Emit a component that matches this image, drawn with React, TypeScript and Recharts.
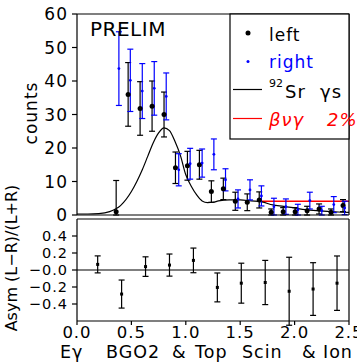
import React from "react";
import { ComposedChart, Scatter, Line, XAxis, YAxis, ErrorBar, ReferenceLine } from "recharts";

// "left" detector counts per energy bin (lower error stops at zero for the first bin)
const leftE = [0.36, 0.47, 0.58, 0.69, 0.8, 0.905, 1.015, 1.125, 1.235, 1.345, 1.455, 1.565, 1.675, 1.785, 1.895, 2.005, 2.115, 2.225, 2.335, 2.445];
const leftCounts = [1.0, 36.0, 31.8, 32.5, 30.0, 14.1, 14.7, 15.0, 7.0, 7.8, 4.1, 3.8, 4.5, 0.8, 1.0, 1.0, 1.3, 1.8, 0.8, 2.8];
const leftErrUp = [9.3, 9.5, 8.0, 7.5, 6.7, 4.7, 4.3, 4.3, 3.2, 3.2, 2.7, 2.5, 2.4, 1.0, 1.2, 1.2, 1.3, 1.5, 1.0, 1.8];
const leftErrDown = [1.0, 9.5, 8.0, 7.5, 6.7, 4.7, 4.3, 4.3, 3.2, 3.2, 2.7, 2.5, 2.4, 0.8, 1.0, 1.0, 1.3, 1.5, 0.8, 1.8];

// "right" detector, drawn slightly offset
const rightE = [0.385, 0.49, 0.6, 0.71, 0.82, 0.935, 1.04, 1.15, 1.258, 1.365, 1.48, 1.59, 1.695, 1.81, 1.92, 2.03, 2.14, 2.25, 2.36, 2.46];
const rightCounts = [43.7, 40.2, 37.0, 37.8, 35.4, 13.5, 15.3, 15.5, 18.1, 10.5, 4.8, 7.5, 5.7, 2.5, 2.5, 1.6, 4.3, 1.3, 3.1, 2.1];
const rightErr = [11.0, 9.3, 8.2, 8.0, 7.0, 4.8, 4.6, 4.2, 4.6, 3.3, 2.7, 3.0, 3.0, 2.5, 2.3, 1.6, 2.5, 1.3, 2.4, 2.0];

// 92Sr gamma response
const srE = [0, 0.1, 0.2, 0.3, 0.4, 0.5, 0.55, 0.6, 0.65, 0.7, 0.75, 0.8, 0.85, 0.9, 0.95, 1.0, 1.05, 1.1, 1.15, 1.2, 1.25, 1.3, 1.4, 1.5, 1.6, 1.7, 1.8, 1.9, 2.0, 2.1, 2.2, 2.3, 2.4, 2.5];
const srCounts = [0.3, 0.3, 0.4, 1.0, 2.8, 7.0, 10.0, 13.5, 17.5, 21.5, 24.5, 26.0, 25.2, 22.0, 17.8, 12.0, 8.6, 6.0, 4.2, 3.7, 3.8, 4.2, 4.5, 4.5, 4.2, 3.9, 3.0, 2.6, 2.1, 1.6, 1.3, 1.1, 0.9, 0.8];

// beta-nu-gamma 2% level
const bngE = [1.67, 2.5];
const bngCounts = [4.1, 4.1];

// asymmetry (L-R)/(L+R)
const asymE = [0.19, 0.41, 0.63, 0.85, 1.07, 1.29, 1.51, 1.73, 1.95, 2.17, 2.39];
const asymVal = [0.066, -0.283, 0.04, 0.058, 0.113, -0.205, -0.155, -0.147, -0.25, -0.224, -0.155];
const asymErr = [0.1, 0.165, 0.115, 0.13, 0.145, 0.17, 0.235, 0.26, 0.4, 0.31, 0.32];

const xTicks = [0, 0.5, 1, 1.5, 2, 2.5];
const countTicks = [0, 10, 20, 30, 40, 50, 60];
const asymTicks = [-0.4, -0.2, 0, 0.2, 0.4];

const FONT = "DejaVu Sans";
const tickFont = { fontSize: 17, fill: "#000", fontFamily: FONT, letterSpacing: 1 };
const ax = { stroke: "#000", strokeWidth: 1.2 };

const leftData = leftE.map((x, i) => ({ x, y: leftCounts[i], e: [leftErrDown[i], leftErrUp[i]] }));
const rightData = rightE.map((x, i) => ({ x, y: rightCounts[i], e: rightErr[i] }));
const srData = srE.map((x, i) => ({ x, y: srCounts[i] }));
const bngData = bngE.map((x, i) => ({ x, y: bngCounts[i] }));
const asymData = asymE.map((x, i) => ({ x, y: asymVal[i], e: asymErr[i] }));

const fmtAsym = (v: number) => (v <= 0 ? "\u2212" + Math.abs(v).toFixed(1) : v.toFixed(1));

export default function App() {
  return (
    <div style={{ position: "absolute", left: 0, top: 0, width: 357, height: 362, background: "#fff", fontFamily: FONT, overflow: "hidden" }}>
      <div style={{ position: "absolute", left: 0, top: 0 }}>
        <ComposedChart width={357} height={235} margin={{ top: 0, right: 0, bottom: 16, left: 0 }}>
          <XAxis dataKey="x" type="number" domain={[0, 2.5]} ticks={xTicks} interval={0} allowDataOverflow height={4} tick={false} tickSize={4} axisLine={ax} tickLine={ax} />
          <XAxis xAxisId="top" orientation="top" type="number" domain={[0, 2.5]} ticks={xTicks} interval={0} allowDataOverflow height={14} tick={false} tickSize={4} axisLine={ax} tickLine={ax} />
          <YAxis type="number" domain={[0, 60]} ticks={countTicks} interval={0} allowDataOverflow width={77} tick={tickFont} tickSize={5} tickMargin={4} axisLine={ax} tickLine={ax} />
          <YAxis yAxisId="r" orientation="right" type="number" domain={[0, 60]} ticks={countTicks} interval={0} allowDataOverflow width={8} tick={false} tickSize={5} axisLine={ax} tickLine={ax} />
          <Line data={bngData} dataKey="y" type="linear" stroke="#ff0000" strokeWidth={1.5} dot={false} isAnimationActive={false} />
          <Line data={srData} dataKey="y" type="monotone" stroke="#000" strokeWidth={1.2} dot={false} isAnimationActive={false} />
          <Scatter data={leftData} dataKey="y" isAnimationActive={false}
            shape={(p: any) => <circle cx={p.cx} cy={p.cy} r={2.5} fill="#000" />}>
            <ErrorBar dataKey="e" direction="y" width={3} stroke="#000" strokeWidth={1.2} />
          </Scatter>
          <Scatter data={rightData} dataKey="y" isAnimationActive={false}
            shape={(p: any) => <circle cx={p.cx} cy={p.cy} r={1.4} fill="#0000ff" />}>
            <ErrorBar dataKey="e" direction="y" width={3} stroke="#0000ff" strokeWidth={1.2} />
          </Scatter>
        </ComposedChart>
      </div>
      <div style={{ position: "absolute", left: 0, top: 214 }}>
        <ComposedChart width={357} height={127} margin={{ top: 0, right: 0, bottom: 0, left: 0 }}>
          <XAxis dataKey="x" type="number" domain={[0, 2.5]} ticks={xTicks} interval={0} allowDataOverflow height={20} tick={{ ...tickFont, fontSize: 16.5 }} tickFormatter={(v: number) => v.toFixed(1)} tickSize={4} tickMargin={1} axisLine={ax} tickLine={ax} />
          <XAxis xAxisId="top" orientation="top" type="number" domain={[0, 2.5]} ticks={xTicks} interval={0} allowDataOverflow height={5} tick={false} tickLine={false} axisLine={ax} />
          <YAxis type="number" domain={[-0.6, 0.6]} ticks={asymTicks} interval={0} allowDataOverflow width={77} tick={{ ...tickFont, fontSize: 14.5 }} tickFormatter={fmtAsym} tickSize={5} tickMargin={4} axisLine={ax} tickLine={ax} />
          <YAxis yAxisId="r" orientation="right" type="number" domain={[-0.6, 0.6]} ticks={asymTicks} interval={0} allowDataOverflow width={8} tick={false} tickSize={5} axisLine={ax} tickLine={ax} />
          <ReferenceLine y={0} stroke="#555" strokeWidth={1.5} />
          <Scatter data={asymData} dataKey="y" isAnimationActive={false}
            shape={(p: any) => <rect x={p.cx - 1.5} y={p.cy - 1.5} width={3} height={3} fill="#000" />}>
            <ErrorBar dataKey="e" direction="y" width={3} stroke="#000" strokeWidth={1.2} />
          </Scatter>
        </ComposedChart>
      </div>
      <svg width={357} height={362} style={{ position: "absolute", left: 0, top: 0, pointerEvents: "none" }} fontFamily={FONT}>
        <text transform="translate(37,113) rotate(-90)" textAnchor="middle" fontSize={17} letterSpacing={1}>counts</text>
        <text transform="translate(17,258) rotate(-90)" textAnchor="middle" fontSize={16}>Asym (L{"\u2212"}R)/(L+R)</text>
        <text y={358} fontSize={17.5} letterSpacing={1}>
          <tspan x={60}>E{"\u03b3"}</tspan>
          <tspan x={106}>BGO2</tspan>
          <tspan x={172}>&amp;</tspan>
          <tspan x={195}>Top</tspan>
          <tspan x={242}>Scin</tspan>
          <tspan x={302}>&amp;</tspan>
          <tspan x={323}>Ion</tspan>
        </text>
        <text x={90} y={35.5} fontSize={20} letterSpacing={0.5}>PRELIM</text>
        <rect x={230} y={14} width={119} height={125} fill="#fff" stroke="#000" strokeWidth={1.2} />
        <circle cx={248} cy={33} r={2.5} fill="#000" />
        <text x={269} y={40.5} fontSize={17} letterSpacing={1}>left</text>
        <circle cx={248} cy={61.5} r={1.5} fill="#0000ff" />
        <text x={269} y={68} fontSize={17} letterSpacing={1} fill="#0000ff">right</text>
        <line x1={233} x2={262} y1={89.5} y2={89.5} stroke="#000" strokeWidth={1.2} />
        <text x={269} y={87} fontSize={11}>92</text>
        <text x={285} y={97.5} fontSize={18} letterSpacing={1}>Sr</text>
        <text x={320} y={97.5} fontSize={18} letterSpacing={1}>{"\u03b3"}s</text>
        <line x1={233} x2={262} y1={118.5} y2={118.5} stroke="#ff0000" strokeWidth={1.2} />
        <text x={269} y={126} fontSize={18} fontStyle="italic" fill="#ff0000" letterSpacing={1}>{"\u03b2\u03bd\u03b3"}</text>
        <text x={327} y={126} fontSize={18} fontStyle="italic" fill="#ff0000" letterSpacing={1}>2%</text>
      </svg>
    </div>
  );
}
